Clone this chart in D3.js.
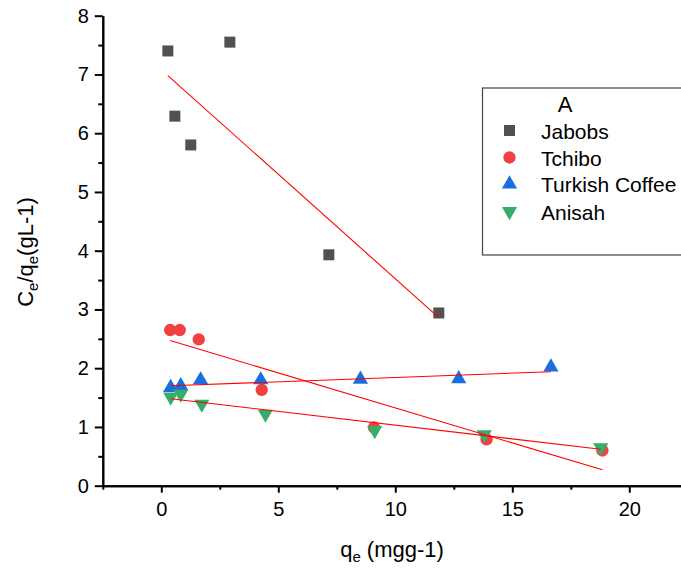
<!DOCTYPE html>
<html>
<head>
<meta charset="utf-8">
<script src="https://cdn.jsdelivr.net/npm/d3@7"></script>
<style>
  html, body { margin: 0; padding: 0; background: #fff; overflow: hidden; }
  svg { display: block; font-family: Arial, "Liberation Sans", sans-serif; }
</style>
</head>
<body>
<svg id="chart" width="681" height="569"></svg>
<script>
// ---- data ----
const seriesNames = ["Jabobs", "Tchibo", "Turkish Coffee", "Anisah"];
const jabobsX = [0.28, 2.93, 0.58, 1.26, 7.16, 11.86];
const jabobsY = [7.40, 7.55, 6.29, 5.80, 3.93, 2.94];
const tchiboX = [0.38, 0.79, 1.60, 4.29, 9.09, 13.90, 18.85];
const tchiboY = [2.65, 2.65, 2.49, 1.63, 0.99, 0.79, 0.60];
const turkishX = [0.40, 0.83, 1.68, 4.25, 8.51, 12.71, 16.65];
const turkishY = [1.67, 1.70, 1.80, 1.80, 1.81, 1.82, 2.02];
const anisahX = [0.40, 0.83, 1.73, 4.45, 9.12, 13.80, 18.78];
const anisahY = [1.51, 1.56, 1.39, 1.22, 0.94, 0.87, 0.65];
// linear fit endpoints [x0, y0, x1, y1]
const jabobsFit = [0.28, 6.98, 11.86, 2.86];
const tchiboFit = [0.38, 2.47, 18.85, 0.27];
const turkishFit = [0.40, 1.70, 16.65, 1.94];
const anisahFit = [0.40, 1.48, 18.78, 0.62];
const xTicks = [0, 5, 10, 15, 20];
const yTicks = [0, 1, 2, 3, 4, 5, 6, 7, 8];
const legendTitle = "A";

const colors = ["#515151", "#F14040", "#1A6FDF", "#37AD6B"];
const shapes = ["square", "circle", "up", "down"];

const svg = d3.select("#chart");
const x = d3.scaleLinear().domain([-2.5, 22.5]).range([102.8, 687.8]);
const y = d3.scaleLinear().domain([0, 8]).range([485.7, 15.7]);

// axes
const xMinor = d3.range(-2.5, 22.51, 2.5);
const yMinor = d3.range(0, 8.01, 0.5);

const xAxis = d3.axisBottom(x).tickValues(xTicks).tickSize(7).tickSizeOuter(0).tickPadding(9);
const xAxisMinor = d3.axisBottom(x).tickValues(xMinor.filter(v => !xTicks.includes(v))).tickSize(4).tickSizeOuter(0).tickFormat("");
const yAxis = d3.axisLeft(y).tickValues(yTicks).tickSize(8).tickSizeOuter(0).tickPadding(6);
const yAxisMinor = d3.axisLeft(y).tickValues(yMinor.filter(v => !yTicks.includes(v))).tickSize(4.5).tickSizeOuter(0).tickFormat("");

function styleAxis(g, fs) {
  g.selectAll("path.domain").attr("stroke", "#000").attr("stroke-width", 2);
  g.selectAll(".tick line").attr("stroke", "#000").attr("stroke-width", 2);
  g.selectAll(".tick text").attr("font-size", fs).attr("fill", "#000")
    .attr("font-family", "Arial, 'Liberation Sans', sans-serif");
}

const gxm = svg.append("g").attr("transform", `translate(0,${y(0)})`).call(xAxisMinor);
styleAxis(gxm, 20);
const gx = svg.append("g").attr("transform", `translate(0,${y(0)})`).call(xAxis);
styleAxis(gx, 20);
const gym = svg.append("g").attr("transform", `translate(${x(-2.5)},0)`).call(yAxisMinor);
styleAxis(gym, 20);
const gy = svg.append("g").attr("transform", `translate(${x(-2.5)},0)`).call(yAxis);
styleAxis(gy, 20);

// axis titles
const xt = svg.append("text").attr("x", 392).attr("y", 557).attr("text-anchor", "middle")
  .attr("font-size", 22).attr("fill", "#000");
xt.append("tspan").text("q");
xt.append("tspan").text("e").attr("font-size", 15).attr("dy", 5);
xt.append("tspan").text(" (mgg-1)").attr("dy", -5);

const yt = svg.append("text").attr("transform", "translate(33,252) rotate(-90)")
  .attr("text-anchor", "middle").attr("font-size", 22).attr("fill", "#000");
yt.append("tspan").text("C");
yt.append("tspan").text("e").attr("font-size", 15).attr("dy", 5);
yt.append("tspan").text("/q").attr("dy", -5);
yt.append("tspan").text("e").attr("font-size", 15).attr("dy", 5);
yt.append("tspan").text("(gL-1)").attr("dy", -5);

// markers
function symbolPath(shape) {
  if (shape === "square") return d3.symbol(d3.symbolSquare, 121)();
  if (shape === "circle") return d3.symbol(d3.symbolCircle, 120)();
  return d3.symbol(d3.symbolTriangle, 100)();
}
function place(g, shape) {
  if (shape === "down") g.attr("transform", function(d){ return `translate(${d[0]},${d[1]}) rotate(180)`; });
  else g.attr("transform", function(d){ return `translate(${d[0]},${d[1]})`; });
}

const allX = [jabobsX, tchiboX, turkishX, anisahX];
const allY = [jabobsY, tchiboY, turkishY, anisahY];
const fits = [jabobsFit, tchiboFit, turkishFit, anisahFit];

allX.forEach((xs, i) => {
  const pts = xs.map((v, j) => [x(v), y(allY[i][j])]);
  const sel = svg.append("g").selectAll("path").data(pts).join("path")
    .attr("d", symbolPath(shapes[i])).attr("fill", colors[i]);
  place(sel, shapes[i]);
});

fits.forEach(f => {
  svg.append("line")
    .attr("x1", x(f[0])).attr("y1", y(f[1]))
    .attr("x2", x(f[2])).attr("y2", y(f[3]))
    .attr("stroke", "#ff0000").attr("stroke-width", 1.1);
});

// legend
const lg = svg.append("g");
lg.append("rect").attr("x", 482.5).attr("y", 88).attr("width", 260).attr("height", 167)
  .attr("fill", "#fff").attr("stroke", "#444").attr("stroke-width", 1.2);
lg.append("text").attr("x", 565).attr("y", 111.5).attr("text-anchor", "middle")
  .attr("font-size", 22).attr("fill", "#000").text(legendTitle);
const rowY = [130.5, 157.5, 184, 211.5];
seriesNames.forEach((name, i) => {
  const s = lg.append("path").datum([509.5, rowY[i]]).attr("d", symbolPath(shapes[i])).attr("fill", colors[i]);
  place(s, shapes[i]);
  lg.append("text").attr("x", 541).attr("y", rowY[i] + 8).attr("font-size", 21)
    .attr("fill", "#000").text(name);
});
</script>
</body>
</html>
